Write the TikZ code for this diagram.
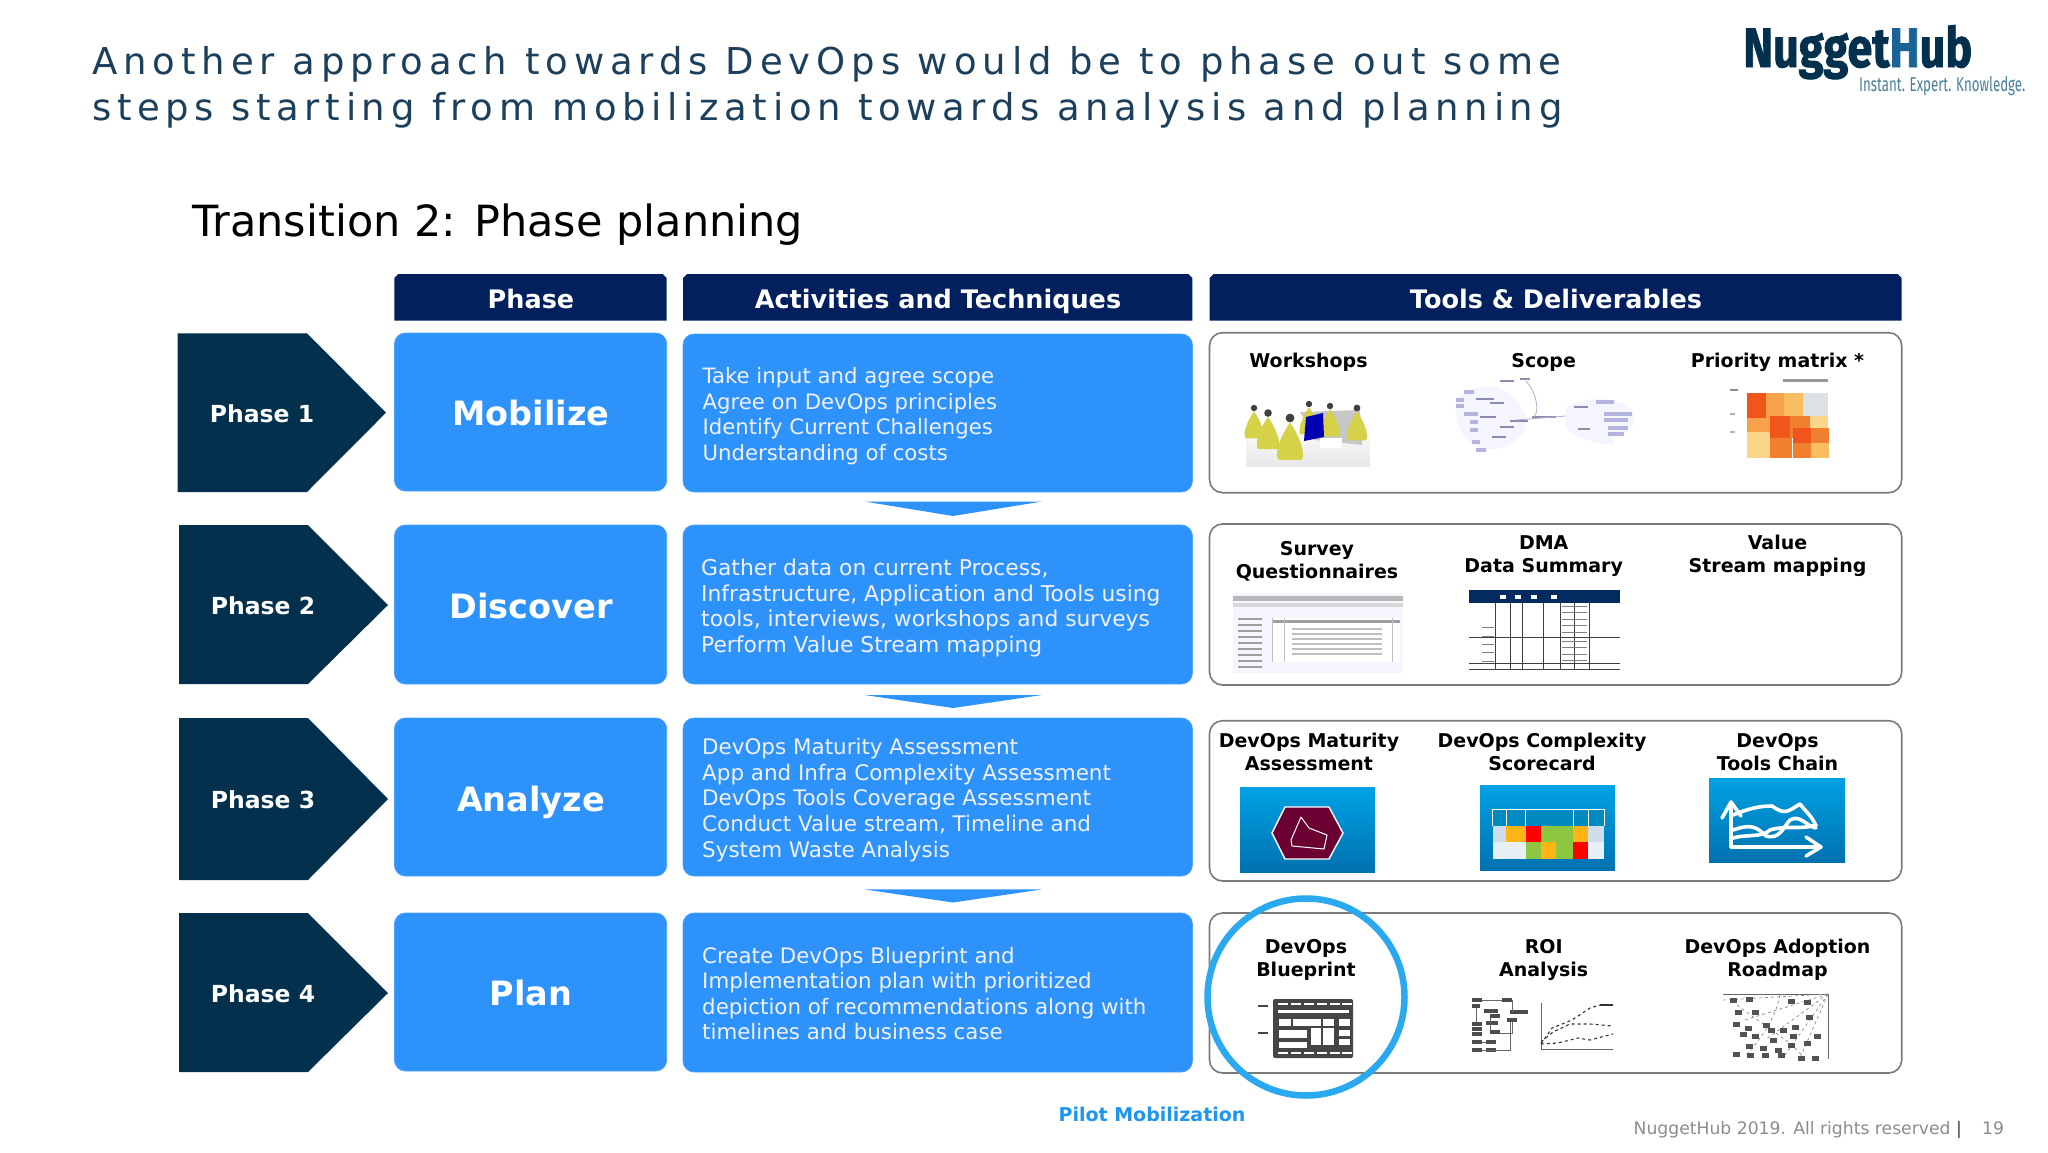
\documentclass[tikz,border=0pt]{standalone}
\usepackage{fontspec}
\setmainfont{DejaVu Sans}
\newfontfamily\titlefontA[LetterSpace=16]{DejaVu Sans}
\newfontfamily\titlefontB[LetterSpace=15.3]{DejaVu Sans}
\newfontfamily\logofont{Fira Sans}
\newfontfamily\logoheavy[FakeBold=1.6]{Fira Sans}
\usetikzlibrary{shapes.geometric,calc}
\newcommand{\fs}[2]{\fontsize{#1}{#2}\selectfont}
\definecolor{navy}{HTML}{021F5E}
\definecolor{chev}{HTML}{03304D}
\definecolor{bluebox}{HTML}{2E92FB}
\definecolor{titlec}{HTML}{1C3F5C}
\definecolor{ringc}{HTML}{2AA8F0}
\definecolor{iconT}{HTML}{00A2E4}
\definecolor{iconB}{HTML}{0071AF}
\definecolor{orangeC}{HTML}{FDB515}
\definecolor{greenC}{HTML}{8DC63F}
\definecolor{paleC}{HTML}{CFDDEA}
\definecolor{tblW}{HTML}{E6F0F6}
\definecolor{darkI}{HTML}{454545}
\definecolor{logoH}{HTML}{1A6396}
\definecolor{logoT}{HTML}{4A7F9A}
\definecolor{maroon}{HTML}{6B0033}
\definecolor{pilotc}{HTML}{1E96F0}
\definecolor{pmA}{HTML}{F0561C}
\definecolor{pmB}{HTML}{F7A24A}
\definecolor{pmC}{HTML}{F9BE62}
\definecolor{pmD}{HTML}{FBD58A}
\definecolor{pmE}{HTML}{DCE2E4}
\definecolor{pmF}{HTML}{F08030}
\definecolor{lav}{HTML}{B4B4E0}
\definecolor{lavdark}{HTML}{8C8CB0}
\definecolor{yelC}{HTML}{D5D24A}
\tikzset{
  x=1pt,y=-1pt,
  lbl/.style={inner sep=0,align=center,text=black,font=\bfseries\fs{19}{23}},
  headtxt/.style={inner sep=0,anchor=base,text=white,font=\bfseries\fs{25.5}{30}},
  headbox/.style={fill=navy,draw=none},
  chevtext/.style={inner sep=0,text=white,font=\bfseries\fs{23.5}{28}},
  phasetxt/.style={inner sep=0,anchor=base,text=white,font=\bfseries\fs{33.5}{42}},
  acttxt/.style={inner sep=0,anchor=west,align=left,text=white!94!blue},
  bbox/.style={fill=bluebox,draw=bluebox!85!white,line width=.8pt,rounded corners=11},
  toolbox/.style={draw=black!52,line width=1.6pt,rounded corners=13,fill=white},
  iconbg/.style={top color=iconT,bottom color=iconB,draw=none},
  whl/.style={draw=white,line width=3.6pt,line cap=round,line join=round},
  thinl/.style={draw=black!60,line width=.6pt},
  titletxt/.style={inner sep=0,anchor=base west,text=titlec},
  foottxt/.style={inner sep=0,text=black!45,font=\fs{17.2}{20}},
}
\begin{document}
\begin{tikzpicture}
\useasboundingbox[fill=white] (0,0) rectangle (2048,1152);

% title
\node[titletxt,font=\titlefontA\fs{37}{46}] (title1) at (92,74) {Another approach towards DevOps would be to phase out some};
\node[titletxt,font=\titlefontB\fs{37}{46}] (title2) at (92,120) {steps starting from mobilization towards analysis and planning};
\node[inner sep=0,anchor=base west,text=black,font=\fs{43}{50}] (sub) at (192.5,236) {Transition 2: Phase planning};

% logo
\node[inner sep=0,anchor=base west,text=chev] (logo) at (1743,67) {\resizebox{229pt}{42pt}{\logoheavy\bfseries Nugget\textcolor{logoH}{H}ub}};
\node[inner sep=0,anchor=base west,text=logoT] (tag) at (1859,91) {\resizebox{166pt}{15pt}{\logofont Instant. Expert. Knowledge.}};

% headers
\fill[headbox] (394.4,320.7) -- (394.4,278) -- (398.4,274) -- (662.7,274) -- (666.7,278) -- (666.7,320.7) -- cycle;
\fill[headbox] (683,320.7) -- (683,278) -- (687,274) -- (1188.4,274) -- (1192.4,278) -- (1192.4,320.7) -- cycle;
\fill[headbox] (1209.5,320.7) -- (1209.5,278) -- (1213.5,274) -- (1897.7,274) -- (1901.7,278) -- (1901.7,320.7) -- cycle;
\node[headtxt] (h1) at (531,308) {Phase};
\node[headtxt] (h2) at (938,308) {Activities and Techniques};
\node[headtxt] (h3) at (1556,308) {Tools \& Deliverables};

% chevrons
\fill[chev] (177.5,333.3) -- (307,333.3) -- (386,412.7) -- (307,492) -- (177.5,492) -- cycle;
\fill[chev] (179,525) -- (308,525) -- (388,605) -- (308,684) -- (179,684) -- cycle;
\fill[chev] (179,718) -- (308,718) -- (388,799) -- (308,880) -- (179,880) -- cycle;
\fill[chev] (179,913) -- (308,913) -- (388,993) -- (308,1072) -- (179,1072) -- cycle;
\node[chevtext] (c1) at (262,414) {Phase 1};
\node[chevtext] (c2) at (263,606) {Phase 2};
\node[chevtext] (c3) at (263,800) {Phase 3};
\node[chevtext] (c4) at (263,994) {Phase 4};

% phase boxes
\draw[bbox] (394.4,333) rectangle (666.7,491);
\draw[bbox] (394.4,525) rectangle (666.7,684);
\draw[bbox] (394.4,718) rectangle (666.7,876);
\draw[bbox] (394.4,913) rectangle (666.7,1071);
\node[phasetxt] (p1) at (531,425.5) {Mobilize};
\node[phasetxt] (p2) at (531,618.5) {Discover};
\node[phasetxt] (p3) at (531,811.5) {Analyze};
\node[phasetxt] (p4) at (531,1005.5) {Plan};

% activity boxes
\draw[bbox] (683,334) rectangle (1192.4,492);
\draw[bbox] (683,525) rectangle (1192.4,684);
\draw[bbox] (683,718) rectangle (1192.4,876);
\draw[bbox] (683,913) rectangle (1192.4,1072);
\node[acttxt,font=\fs{21.2}{25.6}] (a1) at (702.5,416) {Take input and agree scope\\Agree on DevOps principles\\Identify Current Challenges\\Understanding of costs};
\node[acttxt,font=\fs{21.8}{25.6}] (a2) at (701,608) {Gather data on current Process,\\Infrastructure, Application and Tools using\\tools, interviews, workshops and surveys\\Perform Value Stream mapping};
\node[acttxt,font=\fs{21.45}{25.6}] (a3) at (702,800) {DevOps Maturity Assessment\\App and Infra Complexity Assessment\\DevOps Tools Coverage Assessment\\Conduct Value stream, Timeline and\\System Waste Analysis};
\node[acttxt,font=\fs{21.35}{25.6}] (a4) at (702,993.5) {Create DevOps Blueprint and\\Implementation plan with prioritized\\depiction of recommendations along with\\timelines and business case};

% down triangles
\fill[bluebox] (864.6,501.5) -- (1042,501.5) -- (953,516) -- cycle;
\fill[bluebox] (864.6,695) -- (1042,695) -- (953,708) -- cycle;
\fill[bluebox] (864.6,889.4) -- (1042,889.4) -- (953,902.5) -- cycle;

% tool boxes
\draw[toolbox] (1209.5,332.7) rectangle (1901.7,492.7);
\draw[toolbox] (1209.5,524) rectangle (1901.7,685);
\draw[toolbox] (1209.5,720.7) rectangle (1901.7,881);
\draw[toolbox] (1209.5,913) rectangle (1901.7,1073);

% labels
\node[lbl] (t11) at (1308.5,362) {Workshops};
\node[lbl] (t12) at (1543.7,362) {Scope};
\node[lbl] (t13) at (1777.5,362) {Priority matrix *};
\node[lbl] (t21) at (1317,561) {Survey\\Questionnaires};
\node[lbl] (t22) at (1543.7,556) {DMA\\Data Summary};
\node[lbl] (t23) at (1777.5,555.5) {Value\\Stream mapping};
\node[lbl] (t31) at (1309,752) {DevOps Maturity\\Assessment};
\node[lbl] (t32) at (1542,752) {DevOps Complexity\\Scorecard};
\node[lbl] (t33) at (1777.5,752) {DevOps\\Tools Chain};
\node[lbl] (t41) at (1306,959.5) {DevOps\\Blueprint};
\node[lbl] (t42) at (1543.7,959.5) {ROI\\Analysis};
\node[lbl] (t43) at (1777.5,959.5) {DevOps Adoption\\Roadmap};

% ---- thumbnail: workshops
\shade[top color=white,bottom color=black!9,draw=none] (1246,420) rectangle (1370,466);
\fill[black!22] (1300,412) -- (1360,410) -- (1362,445) -- (1315,440) -- cycle;
\foreach \px/\py/\ps in {1254/408/.8,1309/404/.8,1330/406/.8,1357/408/.85,1268/413/.95,1290/418/1.1}{
  \fill[yelC] (\px,\py+4*\ps) .. controls (\px-12*\ps,\py+22*\ps) and (\px-14*\ps,\py+36*\ps) .. (\px-10*\ps,\py+38*\ps) -- (\px+10*\ps,\py+38*\ps) .. controls (\px+14*\ps,\py+36*\ps) and (\px+12*\ps,\py+22*\ps) .. (\px,\py+4*\ps);
  \fill[black!75] (\px,\py) circle[radius=4*\ps];
}
\fill[blue!70!black] (1306,417) -- (1323,413) -- (1324,437) -- (1304,441) -- cycle;
\fill[white] (1320,438) rectangle (1342,448);

% ---- thumbnail: scope
\fill[blue!4] (1456,398) .. controls (1480,382) and (1500,382) .. (1516,400) .. controls (1534,420) and (1526,440) .. (1500,448) .. controls (1480,455) and (1452,440) .. (1456,398) -- cycle;
\fill[blue!4] (1566,408) .. controls (1580,396) and (1622,396) .. (1632,410) .. controls (1640,425) and (1625,436) .. (1612,438) .. controls (1625,452) and (1580,442) .. (1566,428) -- cycle;
\foreach \ax/\ay/\aw in {1464/390/10,1456/398/8,1456/404/8,1464/412/14,1470/420/8,1470/428/8,1472/440/8,1476/448/10,1596/400/18,1604/412/28,1604/418/24,1608/426/20,1608/432/16}{
  \fill[lav] (\ax,\ay) rectangle ++(\aw,4);
}
\foreach \ax/\ay/\aw in {1476/398/18,1490/402/14,1480/416/16,1492/436/14,1510/420/18,1532/416/24,1500/426/14,1574/406/14,1578/428/12,1500/380/14,1520/378/10}{
  \fill[lavdark] (\ax,\ay) rectangle ++(\aw,2.4);
}
\draw[lavdark!70,line width=.8pt] (1516,420) -- (1566,416) (1534,417) .. controls (1540,410) and (1536,392) .. (1526,381);

% ---- thumbnail: priority matrix
\foreach \qx/\qy/\qw/\qh/\qc in {
 1747/393/19/25/pmA,1766/393/18/25/pmB,1784/393/19/25/pmC,1803/393/25/25/pmE,
 1747/418/23/14/pmB,1770/416/20/22/pmA,1790/416/20/22/pmF,1810/416/18/22/pmD,
 1747/432/23/26/pmD,1770/438/22/20/pmF,1793/428/18/15/pmA,1811/428/18/15/pmF,
 1793/443/18/15/pmF,1811/443/18/15/pmC}{
  \fill[\qc] (\qx,\qy) rectangle ++(\qw,\qh);
}
\fill[black!40] (1783,379) rectangle (1828,382);
\fill[black!45] (1730,389) rectangle (1738,391);
\fill[black!30] (1730,413) rectangle (1735,415);
\fill[black!30] (1730,431) rectangle (1735,433);

% ---- thumbnail: survey
\fill[blue!4] (1233,593) rectangle (1403,673);
\fill[black!28] (1233,596) rectangle (1403,601);
\fill[black!15] (1233,603) rectangle (1403,607);
\fill[white] (1272,618) rectangle (1400,662);
\fill[black!38] (1272,620) rectangle (1400,623);
\foreach \sy in {628,633,638,643,648,653}{\fill[black!25] (1292,\sy) rectangle (1382,\sy+1.5);}
\foreach \sy in {618,624,630,636,642,648,654,660,666}{\fill[black!38] (1238,\sy) rectangle (1262,\sy+1.6);}
\draw[black!25,line width=.6pt] (1272,618) -- (1272,662) (1284,618) -- (1284,662) (1392,618) -- (1392,662);

% ---- thumbnail: DMA
\fill[chev!90!blue] (1469,590) rectangle (1620,603);
\foreach \dx in {1495,1510,1522,1543,1560,1574,1589}{\draw[black!75,line width=.7pt] (\dx,603) -- (\dx,670);}
\foreach \dy in {637,663,669}{\draw[black!75,line width=.7pt] (1469,\dy) -- (1620,\dy);}
\foreach \dy in {606,612,619,625,632,641,647,654,660}{\draw[black!50,line width=1pt] (1562,\dy) -- (1587,\dy);}
\foreach \dy in {627,636,644,652,661}{\draw[black!50,line width=1pt] (1482,\dy) -- (1494,\dy);}
\foreach \dx in {1500,1515,1531,1551}{\fill[white] (\dx,595) rectangle ++(6,4);}

% ---- icon: maturity
\shade[iconbg] (1240,787) rectangle (1375,872);
\draw[fill=maroon,draw=white,line width=1.4pt] (1272,833) -- (1285,807) -- (1329,807) -- (1343,833) -- (1329,859) -- (1285,859) -- cycle;
\draw[white,line width=1pt,line join=round] (1301,817) -- (1291,840) -- (1292,846) -- (1324,849) -- (1327,835) -- (1309,828) -- cycle;

% ---- icon: scorecard
\shade[iconbg] (1480,785) rectangle (1615,870);
\fill[tblW] (1492.6,809) rectangle (1604,859);
\fill[iconT!85!black] (1492.6,809.5) rectangle (1604,826);
\foreach \cxa/\cxb/\cc in {1492.6/1506/paleC,1506/1525.8/orangeC,1525.8/1541/red,1541/1556.3/greenC,1556.3/1573/greenC,1573/1588/orangeC,1588/1604/paleC}{
  \fill[\cc] (\cxa,826) rectangle (\cxb,842.3);
}
\foreach \cxa/\cxb/\cc in {1525.8/1541/greenC,1541/1556.3/orangeC,1556.3/1573/greenC,1573/1588/red}{
  \fill[\cc] (\cxa,842.3) rectangle (\cxb,859);
}
\draw[white,line width=.9pt] (1492.6,809) -- (1604,809) (1506,809) -- (1506,826) (1525.8,809) -- (1525.8,826) (1573,809) -- (1573,826) (1588,809) -- (1588,826) (1604,809) -- (1604,826) (1492.6,809) -- (1492.6,826);

% ---- icon: tools chain
\shade[iconbg] (1709,778) rectangle (1845,862);
\draw[whl] (1731,847) -- (1731,802) (1722,818) -- (1731,802) -- (1741,816);
\draw[whl] (1731,847) -- (1821,847) (1806,837) -- (1821,847) -- (1806,856);
\draw[whl] (1733,815) .. controls (1750,808) and (1760,806) .. (1772,806) .. controls (1785,815) and (1787,812) .. (1800,804) .. controls (1806,812) and (1812,816) .. (1816,826);
\draw[whl] (1733,830) .. controls (1750,824) and (1756,826) .. (1766,836) .. controls (1780,840) and (1784,826) .. (1790,820) .. controls (1800,814) and (1806,826) .. (1816,828);
\draw[whl] (1733,838) .. controls (1745,834) and (1762,838) .. (1770,830) .. controls (1786,825) and (1800,830) .. (1816,825);

% ---- icon: blueprint
\fill[darkI,rounded corners=2] (1273,999) rectangle (1353,1058);
\fill[darkI] (1258,1005) rectangle (1268,1007);
\fill[darkI] (1258,1032) rectangle (1268,1034);
\foreach \bx in {1278,1291,1304,1317,1330,1342}{\fill[white] (\bx,1003) rectangle ++(10,2); \fill[white] (\bx,1052) rectangle ++(10,2);}
\fill[white] (1278,1010) rectangle (1349,1012.5);
\foreach \bx in {1279,1293,1302}{\fill[white] (\bx,1019) rectangle ++(12,7);}
\fill[white] (1279,1030) rectangle (1307,1038);
\fill[white] (1279,1042) rectangle (1307,1048);
\fill[white] (1311,1019) rectangle (1321,1026);
\fill[white] (1323,1019) rectangle (1334,1026);
\fill[white] (1311,1028) rectangle (1321,1045);
\fill[white] (1323,1028) rectangle (1334,1045);
\fill[white] (1339,1019) rectangle (1350,1026);
\fill[white] (1339,1030) rectangle (1350,1036);
\fill[white] (1339,1039) rectangle (1350,1045);

% ---- thumbnail: ROI
\foreach \rx/\ry/\rw in {1472/998/10,1472/1004/8,1502/998/10,1484/1009/14,1490/1014/10,1510/1010/18,1486/1021/12,1472/1022/10,1472/1027/10,1472/1032/10,1490/1030/10,1472/1040/10,1486/1040/10,1472/1048/10,1486/1048/10,1507/1018/10}{
  \fill[black!70] (\rx,\ry) rectangle ++(\rw,4);
}
\draw[thinl] (1482,1000) -- (1502,1000) (1512,1000) -- (1512,1012) (1476,1008) -- (1476,1022) (1490,1018) -- (1490,1030) (1500,1033) -- (1512,1033) -- (1512,1022) (1482,1042) -- (1486,1042) (1482,1050) -- (1510,1050) -- (1510,1022);
\draw[black!60,line width=1pt] (1541,1003) -- (1541,1049) -- (1613,1049);
\draw[black!80,line width=1.1pt,dashed] (1541,1044) -- (1552,1028) -- (1572,1020) -- (1590,1008) -- (1600,1005);
\draw[black!80,line width=1.2pt] (1600,1005) -- (1613,1005);
\draw[black!80,line width=1.1pt,dashed] (1541,1042) -- (1553,1032) -- (1570,1024) -- (1590,1024) -- (1613,1026);
\draw[black!80,line width=1.1pt,dashed] (1541,1044) -- (1558,1043) -- (1578,1038) -- (1590,1040) -- (1613,1034);

% ---- thumbnail: roadmap
\draw[black!60,line width=1pt] (1723,994) -- (1828,994) -- (1828,1059);
\foreach \ra/\rb in {1723/1000,1745/1020,1765/1040,1785/1055,1800/1058}{\draw[black!45,line width=.7pt,dashed] (1828,994) -- (\ra,\rb);}
\draw[black!45,line width=.7pt,dashed] (1737,1005) .. controls (1770,1030) and (1790,1040) .. (1805,1059);
\draw[black!45,line width=.7pt,dashed] (1780,995) .. controls (1775,1020) and (1760,1040) .. (1745,1056);
\foreach \mx/\my in {1730/998,1746/997,1788/999,1804/1000,1735/1010,1752/1010,1733/1022,1745/1026,1763/1023,1740/1032,1752/1034,1768/1028,1780/1028,1792/1025,1806/1015,1746/1044,1760/1046,1775/1048,1788/1043,1804/1041,1814/1034,1733/1052,1747/1053,1762/1053,1778/1053,1798/1056,1812/1056,1770/1038,1790/1034}{
  \fill[black!68] (\mx,\my) rectangle ++(6.5,5);
}

% ring
\node[draw=ringc,line width=6.5pt,circle,minimum size=197pt,inner sep=0] (ring) at (1306,997) {};

% footer
\node[inner sep=0,text=pilotc,font=\bfseries\fs{19}{24}] (pilot) at (1152,1114) {Pilot Mobilization};
\node[foottxt,anchor=base east] (foot) at (1962,1134) {NuggetHub 2019. All rights reserved \textcolor{black!75}{|}};
\node[foottxt,anchor=base west] (pg) at (1982,1134) {19};
\end{tikzpicture}
\end{document}
